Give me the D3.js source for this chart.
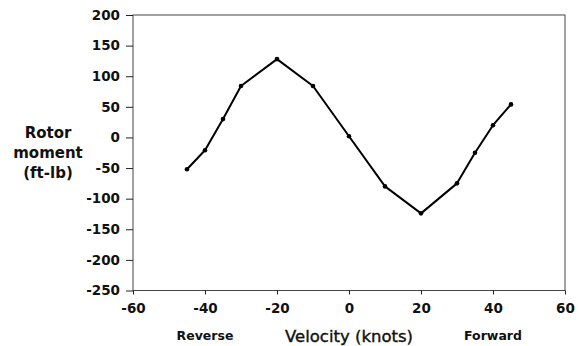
<!DOCTYPE html>
<html>
<head>
<meta charset="utf-8">
<script src="https://cdn.jsdelivr.net/npm/d3@7"></script>
<style>
  body { margin: 0; background: #fff; }
  svg { display: block; }
  .tick text { font-family: "DejaVu Sans", sans-serif; font-weight: bold; font-size: 13.5px; fill: #111; }
</style>
</head>
<body>
<svg id="chart"></svg>
<script>
// velocity (knots) and rotor moment (ft-lb)
const velocity = [-45, -40, -35, -30, -20, -10, 0, 10, 20, 30, 35, 40, 45];
const moment = [-52, -21, 30, 84, 128, 84, 2, -80, -124, -75, -25, 20, 54];

const xTicks = [-60, -40, -20, 0, 20, 40, 60];
const yTicks = [200, 150, 100, 50, 0, -50, -100, -150, -200, -250];

const width = 579, height = 346;
const margin = {top: 15, right: 14, bottom: 55.5, left: 133};

const svg = d3.select("#chart")
  .attr("width", width)
  .attr("height", height);

const x = d3.scaleLinear().domain([-60, 60]).range([margin.left, width - margin.right]);
const y = d3.scaleLinear().domain([-250, 200]).range([height - margin.bottom, margin.top]);

// plain hyphen for negatives, like the original
const fmt = d => String(d);

// frame
svg.append("rect")
  .attr("x", x(-60))
  .attr("y", y(200))
  .attr("width", x(60) - x(-60))
  .attr("height", y(-250) - y(200))
  .attr("fill", "none")
  .attr("stroke", "#444")
  .attr("stroke-width", 1);

// axes
const xAxis = svg.append("g")
  .attr("transform", `translate(0,${y(-250)})`)
  .call(d3.axisBottom(x).tickValues(xTicks).tickFormat(fmt).tickSize(4).tickPadding(9));
xAxis.select(".domain").remove();
xAxis.selectAll(".tick line").attr("stroke", "#222");

const yAxis = svg.append("g")
  .attr("transform", `translate(${x(-60)},0)`)
  .call(d3.axisLeft(y).tickValues(yTicks).tickFormat(fmt).tickSize(7).tickPadding(6));
yAxis.select(".domain").remove();
yAxis.selectAll(".tick line").attr("stroke", "#222");

// data line
const pts = velocity.map((v, i) => ({v: v, m: moment[i]}));
const line = d3.line().x(d => x(d.v)).y(d => y(d.m));

svg.append("path")
  .datum(pts)
  .attr("d", line)
  .attr("fill", "none")
  .attr("stroke", "#000")
  .attr("stroke-width", 2)
  .attr("stroke-linejoin", "round");

svg.selectAll(".pt")
  .data(pts)
  .enter()
  .append("circle")
  .attr("class", "pt")
  .attr("cx", d => x(d.v))
  .attr("cy", d => y(d.m))
  .attr("r", 2.3)
  .attr("fill", "#000");

// y label
const ylab = svg.append("text")
  .attr("text-anchor", "middle")
  .attr("font-family", "DejaVu Sans, sans-serif")
  .attr("font-weight", "bold")
  .attr("font-size", "15px")
  .attr("fill", "#111");
["Rotor", "moment", "(ft-lb)"].forEach((s, i) => {
  ylab.append("tspan").attr("x", 48).attr("y", 138 + i * 20).text(s);
});

// x labels
svg.append("text")
  .attr("x", x(0))
  .attr("y", 342)
  .attr("text-anchor", "middle")
  .attr("font-family", "DejaVu Sans, sans-serif")
  .attr("font-size", "16.5px")
  .attr("stroke", "#111")
  .attr("stroke-width", 0.4)
  .attr("fill", "#111")
  .text("Velocity (knots)");

svg.append("text")
  .attr("x", x(-40))
  .attr("y", 340)
  .attr("text-anchor", "middle")
  .attr("font-family", "DejaVu Sans, sans-serif")
  .attr("font-weight", "bold")
  .attr("font-size", "12.5px")
  .attr("fill", "#111")
  .text("Reverse");

svg.append("text")
  .attr("x", x(40))
  .attr("y", 340)
  .attr("text-anchor", "middle")
  .attr("font-family", "DejaVu Sans, sans-serif")
  .attr("font-weight", "bold")
  .attr("font-size", "12.5px")
  .attr("fill", "#111")
  .text("Forward");
</script>
</body>
</html>
